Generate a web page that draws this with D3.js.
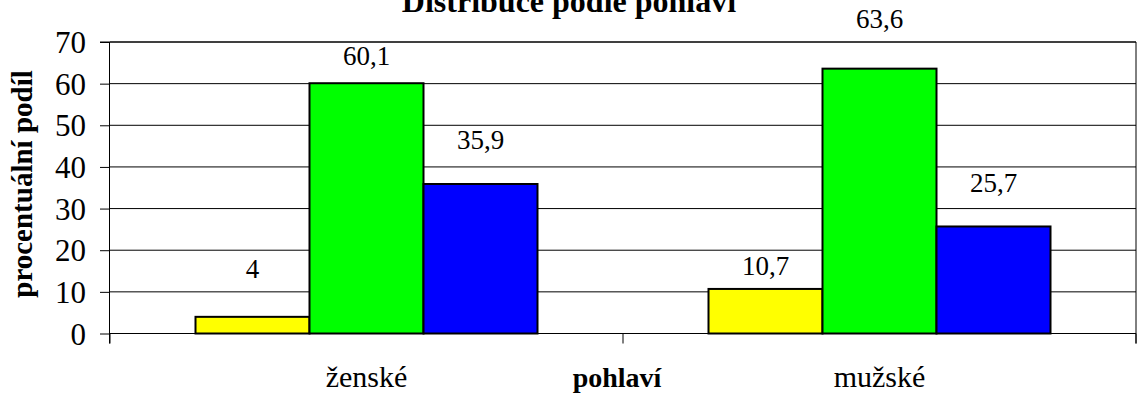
<!DOCTYPE html>
<html>
<head>
<meta charset="utf-8">
<script src="https://cdn.jsdelivr.net/npm/d3@7/dist/d3.min.js"></script>
<style>
  html, body { margin: 0; padding: 0; background: #fff; }
  svg { display: block; }
  svg text { font-family: "Liberation Serif", "Times New Roman", "DejaVu Serif", serif; fill: #000; }
</style>
</head>
<body>
<svg id="chart" width="1138" height="401"></svg>
<script>
// ---- data ----
const categories = ["ženské", "mužské"];
const seriesKeys = ["s1", "s2", "s3"];
const seriesColors = ["#ffff00", "#00ff00", "#0000ff"];
const values = [
  [4, 60.1, 35.9],
  [10.7, 63.6, 25.7]
];
const valueLabels = [
  ["4", "60,1", "35,9"],
  ["10,7", "63,6", "25,7"]
];
const yTicks = [0, 10, 20, 30, 40, 50, 60, 70];
const title = "Distribuce podle pohlaví";
const xTitle = "pohlaví";
const yTitle = "procentuální podíl";

// ---- layout (not data) ----
const labelLift = [
  [48, 27.5, 44],
  [23, 50, 44]
];
const L = 110, R = 1136, T = 42, B = 333.5;
const SERIF = "Liberation Serif, Times New Roman, DejaVu Serif, serif";

const svg = d3.select("#chart");

const y = d3.scaleLinear().domain([0, 70]).range([B, T]);
const x0 = d3.scaleBand().domain(categories).range([L, R]).padding(0);
const x1 = d3.scaleBand().domain(seriesKeys).range([0, x0.bandwidth()])
  .paddingInner(0).paddingOuter(0.75);

// gridlines
svg.append("g").selectAll("line")
  .data(yTicks.filter(d => d > 0))
  .join("line")
  .attr("x1", L).attr("x2", R)
  .attr("y1", d => y(d)).attr("y2", d => y(d))
  .attr("stroke", "#000").attr("stroke-width", 1);

// right border of plot area
svg.append("line")
  .attr("x1", R).attr("x2", R).attr("y1", T).attr("y2", B + 10)
  .attr("stroke", "#000").attr("stroke-width", 1);

// y axis
const yAxis = d3.axisLeft(y).tickValues(yTicks).tickSize(10).tickPadding(14)
  .tickFormat(d3.format("d"));
const gy = svg.append("g").attr("transform", `translate(${L},0)`).call(yAxis)
  .attr("font-family", SERIF).attr("font-size", 31);
gy.select(".domain").remove();
gy.selectAll(".tick line").attr("stroke", "#000");
gy.selectAll(".tick text")
  .attr("font-size", 31).attr("fill", "#000")
  .attr("font-family", SERIF)
  .attr("dy", "0.34em");
svg.append("line")
  .attr("x1", L - 0.5).attr("x2", L - 0.5).attr("y1", T).attr("y2", B + 10)
  .attr("stroke", "#000").attr("stroke-width", 1);

// bars
const groups = svg.append("g").selectAll("g")
  .data(categories)
  .join("g")
  .attr("transform", d => `translate(${x0(d)},0)`);

groups.selectAll("rect")
  .data((c, ci) => seriesKeys.map((k, si) => ({ k, si, ci, v: values[ci][si] })))
  .join("rect")
  .attr("x", d => x1(d.k))
  .attr("width", x1.bandwidth())
  .attr("y", d => y(d.v))
  .attr("height", d => B - y(d.v))
  .attr("fill", d => seriesColors[d.si])
  .attr("stroke", "#000").attr("stroke-width", 2);

// x axis line and ticks
svg.append("line")
  .attr("x1", L).attr("x2", R).attr("y1", B).attr("y2", B)
  .attr("stroke", "#000").attr("stroke-width", 1);
const xBoundaries = [L].concat(categories.map(c => x0(c) + x0.bandwidth()));
svg.append("g").selectAll("line")
  .data(xBoundaries)
  .join("line")
  .attr("x1", d => d).attr("x2", d => d)
  .attr("y1", B).attr("y2", B + 10)
  .attr("stroke", "#000").attr("stroke-width", 1);

// top border
svg.append("line")
  .attr("x1", L - 10).attr("x2", R).attr("y1", T).attr("y2", T)
  .attr("stroke", "#000").attr("stroke-width", 1);

// value labels
groups.selectAll("text.val")
  .data((c, ci) => seriesKeys.map((k, si) => ({ k, si, ci, v: values[ci][si] })))
  .join("text")
  .attr("class", "val")
  .attr("x", d => x1(d.k) + x1.bandwidth() / 2)
  .attr("y", d => y(d.v) - labelLift[d.ci][d.si])
  .attr("dy", "0.34em")
  .attr("text-anchor", "middle")
  .attr("font-family", SERIF)
  .attr("font-size", 27)
  .text(d => valueLabels[d.ci][d.si]);

// category labels
svg.append("g").selectAll("text")
  .data(categories)
  .join("text")
  .attr("x", d => x0(d) + x0.bandwidth() / 2)
  .attr("y", 387)
  .attr("text-anchor", "middle")
  .attr("font-family", SERIF)
  .attr("font-size", 30)
  .text(d => d);

// axis titles
svg.append("text")
  .attr("x", 617).attr("y", 387)
  .attr("text-anchor", "middle")
  .attr("font-family", SERIF)
  .attr("font-size", 28).attr("font-weight", "bold")
  .text(xTitle);

svg.append("text")
  .attr("transform", "translate(32,184) rotate(-90)")
  .attr("text-anchor", "middle")
  .attr("font-family", SERIF)
  .attr("font-size", 29).attr("font-weight", "bold")
  .text(yTitle);

// chart title (partly cut off at top, as in the reference)
svg.append("text")
  .attr("x", 569).attr("y", 12)
  .attr("text-anchor", "middle")
  .attr("font-family", SERIF)
  .attr("font-size", 32).attr("font-weight", "bold")
  .text(title);
</script>
</body>
</html>
